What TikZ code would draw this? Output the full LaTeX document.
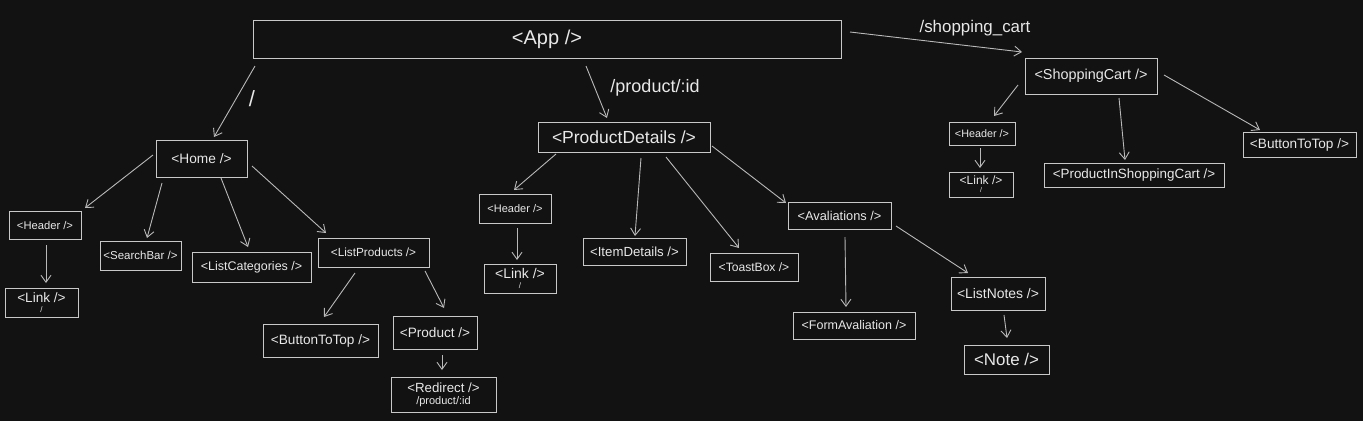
\documentclass[tikz,border=0pt]{standalone}
\usepackage{fontspec}
\setmainfont{Liberation Sans}
\usetikzlibrary{arrows.meta,calc}
\definecolor{bgc}{RGB}{18,18,18}
\definecolor{boxc}{RGB}{200,200,200}
\definecolor{txtc}{RGB}{232,232,232}
\definecolor{arrc}{RGB}{185,185,185}
\newcommand\fsz[1]{\fontsize{#1}{#1}\selectfont}
\tikzset{
  comp/.style={draw=boxc, line width=1pt, text=txtc, inner sep=0pt, align=center},
  arr/.style={draw=arrc, line width=0.9pt, -{Straight Barb[length=7pt,width=10pt]}},
  lbl/.style={text=txtc, inner sep=0pt}
}
\begin{document}
\begin{tikzpicture}[x=1pt,y=-1pt]
\fill[bgc] (0,0) rectangle (1363,421);
% main
\node[comp, minimum width=588pt, minimum height=38pt, font=\fsz{20}] (app) at (547,39) {<App />};
% Home branch
\node[comp, minimum width=91pt, minimum height=37pt, font=\fsz{13.7}] (home) at (201.5,158.5) {<Home />};
\node[comp, minimum width=72pt, minimum height=28pt, font=\fsz{11.2}] (hhead) at (45,225) {<Header />};
\node[comp, minimum width=73pt, minimum height=29pt, font=\fsz{13.6}] (hlink) at (41.5,302.5) {<Link />\\[-4pt]{\fsz{8}/}};
\node[comp, minimum width=81pt, minimum height=29pt, font=\fsz{11.5}] (search) at (140.5,255.5) {<SearchBar />};
\node[comp, minimum width=119pt, minimum height=30pt, font=\fsz{12.5}] (listcat) at (251.5,267) {<ListCategories />};
\node[comp, minimum width=111pt, minimum height=29pt, font=\fsz{11.8}] (listprod) at (373.5,252.5) {<ListProducts />};
\node[comp, minimum width=115pt, minimum height=33pt, font=\fsz{13.6}] (hbtt) at (320.5,340.5) {<ButtonToTop />};
\node[comp, minimum width=84pt, minimum height=33pt, font=\fsz{13.6}] (product) at (435,332.5) {<Product />};
\node[comp, minimum width=105pt, minimum height=35pt, font=\fsz{13.3}] (redirect) at (443.5,394.5) {<Redirect />\\[-1pt]{\fsz{11}/product/:id}};
% ProductDetails branch
\node[comp, minimum width=172pt, minimum height=30pt, font=\fsz{17.5}] (pd) at (624,137) {<ProductDetails />};
\node[comp, minimum width=72pt, minimum height=29pt, font=\fsz{11}] (pdhead) at (515,208.5) {<Header />};
\node[comp, minimum width=72pt, minimum height=29pt, font=\fsz{14}] (pdlink) at (520,278.5) {<Link />\\[-4pt]{\fsz{8}/}};
\node[comp, minimum width=103pt, minimum height=27pt, font=\fsz{13.2}] (item) at (634.5,251.5) {<ItemDetails />};
\node[comp, minimum width=88pt, minimum height=28pt, font=\fsz{12.1}] (toast) at (754,267) {<ToastBox />};
\node[comp, minimum width=103pt, minimum height=27pt, font=\fsz{12.8}] (aval) at (839.5,215.5) {<Avaliations />};
\node[comp, minimum width=122pt, minimum height=27pt, font=\fsz{12.5}] (form) at (854,325.5) {<FormAvaliation />};
\node[comp, minimum width=94pt, minimum height=33pt, font=\fsz{13.9}] (notes) at (998,293.5) {<ListNotes />};
\node[comp, minimum width=85pt, minimum height=29pt, font=\fsz{16.9}] (note) at (1006.5,359.5) {<Note />};
% ShoppingCart branch
\node[comp, minimum width=132pt, minimum height=36pt, font=\fsz{14.4}] (cart) at (1091,76) {<ShoppingCart />};
\node[comp, minimum width=66pt, minimum height=23pt, font=\fsz{10.8}] (chead) at (982,133.5) {<Header />};
\node[comp, minimum width=64pt, minimum height=25pt, font=\fsz{12}] (clink) at (981,184.5) {<Link />\\[-4pt]{\fsz{7}/}};
\node[comp, minimum width=180pt, minimum height=24pt, font=\fsz{13.4}] (pisc) at (1134,175) {<ProductInShoppingCart />};
\node[comp, minimum width=113pt, minimum height=25pt, font=\fsz{13.6}] (cbtt) at (1299.5,144.5) {<ButtonToTop />};
% route labels
\node[lbl, font=\fsz{22}] (lroot) at (252,99) {/};
\node[lbl, font=\fsz{18}] (lpd) at (655,88) {/product/:id};
\node[lbl, font=\fsz{16.9}] (lcart) at (975,28) {/shopping\_cart};
% connectors
\draw[arr] ($(app)+(-292,27)$) -- ($(home)+(12.5,-21.5)$);
\draw[arr] ($(app)+(39,27)$) -- ($(pd)+(-17,-19)$);
\draw[arr] ($(app)+(303,-7)$) -- ($(cart)+(-69,-24)$);
\draw[arr] ($(home)+(-48.5,-3.5)$) -- ($(hhead)+(40,-17)$);
\draw[arr] ($(home)+(-39.5,24.5)$) -- ($(search)+(6.5,-17.5)$);
\draw[arr] ($(home)+(19.5,19.5)$) -- ($(listcat)+(-3.5,-20)$);
\draw[arr] ($(home)+(50.5,7.5)$) -- ($(listprod)+(-47.5,-19.5)$);
\draw[arr] ($(hhead)+(1,20)$) -- ($(hlink)+(4.5,-19.5)$);
\draw[arr] ($(listprod)+(-18.5,20.5)$) -- ($(hbtt)+(3.5,-23.5)$);
\draw[arr] ($(listprod)+(51.5,18.5)$) -- ($(product)+(9,-24.5)$);
\draw[arr] ($(product)+(7,22.5)$) -- ($(redirect)+(-1.5,-24.5)$);
\draw[arr] ($(pd)+(-68,17)$) -- ($(pdhead)+(-1,-18.5)$);
\draw[arr] ($(pd)+(17,21)$) -- ($(item)+(0.5,-15.5)$);
\draw[arr] ($(pd)+(42,20)$) -- ($(toast)+(-15,-19)$);
\draw[arr] ($(pd)+(88,9)$) -- ($(aval)+(-53.5,-12.5)$);
\draw[arr] ($(pdhead)+(2,19.5)$) -- ($(pdlink)+(-3,-18.5)$);
\draw[arr] ($(aval)+(5.5,21.5)$) -- ($(form)+(-8,-18.5)$);
\draw[arr] ($(aval)+(56.5,10.5)$) -- ($(notes)+(-30,-20.5)$);
\draw[arr] ($(notes)+(6,21.5)$) -- ($(note)+(0.5,-21.5)$);
\draw[arr] ($(cart)+(-73,9)$) -- ($(chead)+(12,-17.5)$);
\draw[arr] ($(cart)+(28,22)$) -- ($(pisc)+(-9,-15)$);
\draw[arr] ($(cart)+(73,-1)$) -- ($(cbtt)+(-39.5,-14.5)$);
\draw[arr] ($(chead)+(-2,14.5)$) -- ($(clink)+(-1,-16.5)$);
\end{tikzpicture}
\end{document}
